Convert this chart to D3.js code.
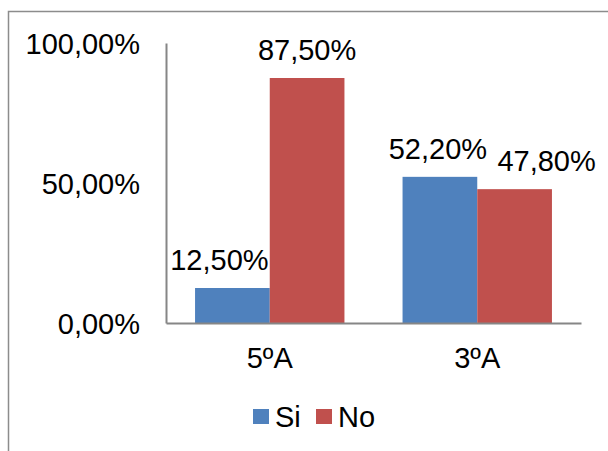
<!DOCTYPE html>
<html>
<head>
<meta charset="utf-8">
<script src="https://cdn.jsdelivr.net/npm/d3@7"></script>
<style>
    body { margin: 0; background: #fff; }
    text { font-family: "Liberation Sans", Arial, sans-serif; fill: #000; }
</style>
</head>
<body>
<svg id="canvas" width="608" height="451"></svg>
<script>
const categories = ['5ºA', '3ºA'];
const series = ['Si', 'No'];
const si = [12.5, 52.2];
const no = [87.5, 47.8];
const yTicks = [0, 50, 100];

const colors = { Si: '#4F81BD', No: '#C0504D' };
const fmt = v => d3.format('.2f')(v).replace('.', ',') + '%';

// label nudges (px) so neighbouring labels don't collide, per category [Si, No]
const labelShift = [[-13, 0], [-2, 32]];

const svg = d3.select('#canvas');

// chart border
svg.append('rect')
    .attr('x', 8.5).attr('y', 11.5)
    .attr('width', 640).attr('height', 500)
    .attr('fill', 'none')
    .attr('stroke', '#8c8c8c')
    .attr('stroke-width', 1.5);

const plotLeft = 166, plotRight = 581, plotTop = 43, plotBottom = 323;

const x0 = d3.scaleBand()
    .domain(categories)
    .range([plotLeft, plotRight])
    .paddingInner(0.28)
    .paddingOuter(0.14);
const x1 = d3.scaleBand()
    .domain(series)
    .range([0, x0.bandwidth()]);
const y = d3.scaleLinear()
    .domain([0, 100])
    .range([plotBottom, plotTop]);

const rows = categories.map((c, i) => ({
    cat: c,
    values: [{ s: 'Si', v: si[i], dx: labelShift[i][0] }, { s: 'No', v: no[i], dx: labelShift[i][1] }]
}));

const groups = svg.append('g').selectAll('g')
    .data(rows)
    .enter().append('g')
    .attr('transform', d => `translate(${x0(d.cat)},0)`);

groups.selectAll('rect')
    .data(d => d.values)
    .enter().append('rect')
    .attr('x', d => x1(d.s))
    .attr('y', d => y(d.v))
    .attr('width', x1.bandwidth())
    .attr('height', d => plotBottom - y(d.v))
    .attr('fill', d => colors[d.s]);

groups.selectAll('text')
    .data(d => d.values)
    .enter().append('text')
    .attr('x', d => x1(d.s) + x1.bandwidth() / 2 + d.dx)
    .attr('y', d => y(d.v) - 18)
    .attr('text-anchor', 'middle')
    .style('font-size', '29px')
    .text(d => fmt(d.v));

// axes
const yAxis = svg.append('g')
    .attr('transform', `translate(${plotLeft},0)`)
    .call(d3.axisLeft(y).tickValues(yTicks).tickSize(0).tickPadding(26).tickFormat(fmt));
yAxis.select('.domain').attr('stroke', '#868686').attr('stroke-width', 2);
yAxis.selectAll('text').style('font-size', '29px').attr('dy', '0.35em');

const xAxis = svg.append('g')
    .attr('transform', `translate(0,${plotBottom})`)
    .call(d3.axisBottom(x0).tickSize(0).tickPadding(24));
xAxis.select('.domain').attr('stroke', '#868686').attr('stroke-width', 2);
xAxis.selectAll('text').style('font-size', '29px');

// legend
const legendX = [253, 316];
const legend = svg.append('g').selectAll('g')
    .data(series)
    .enter().append('g')
    .attr('transform', (d, i) => `translate(${legendX[i]},409)`);
legend.append('rect')
    .attr('width', 16).attr('height', 15)
    .attr('fill', d => colors[d]);
legend.append('text')
    .attr('x', 22).attr('y', 18)
    .style('font-size', '29px')
    .text(d => d);
</script>
</body>
</html>
